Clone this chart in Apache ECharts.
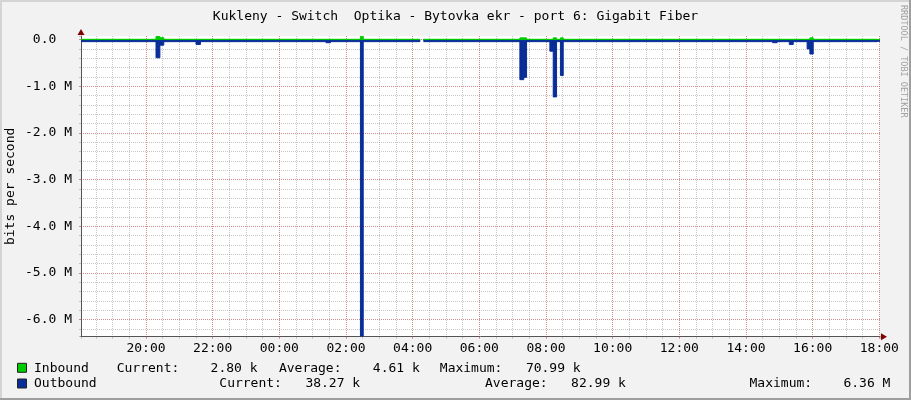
<!DOCTYPE html>
<html><head><meta charset="utf-8">
<script src="https://cdn.jsdelivr.net/npm/echarts@6/dist/echarts.min.js"></script>
<style>
html,body{margin:0;padding:0;background:#f2f2f2;}
#wrap{position:relative;width:911px;height:400px;overflow:hidden;}
#chart{position:absolute;left:0;top:0;width:911px;height:400px;}
.b{position:absolute;pointer-events:none;}
</style></head><body>
<div id="wrap"><div id="chart"></div>
<div class="b" style="left:0;top:0;width:911px;height:2px;background:#d4d4d4"></div>
<div class="b" style="left:0;top:0;width:2px;height:400px;background:#d4d4d4"></div>
<div class="b" style="left:0;top:398px;width:911px;height:2px;background:#9e9e9e"></div>
<div class="b" style="left:909px;top:0;width:2px;height:400px;background:#9e9e9e"></div>
</div>
<script>
const chartTitle = 'Kukleny - Switch  Optika - Bytovka ekr - port 6: Gigabit Fiber';
const yAxisName = 'bits per second';
const watermark = 'RRDTOOL / TOBI OETIKER';
const seriesNames = ['Inbound', 'Outbound'];
const seriesColors = ['#00CC00', '#0A2E98'];
// time in minutes after 18:00 of the first day; each value holds until the next time
const tMin     = [3,     138,   145,    152,   210,    218,   444,   452,   506,     511,   613,  620,   793,    800,    805,   847,    853,     859,   866,    871,   1248,  1256,  1278,   1285,  1310,   1315,   1321,  1436,  1441.2];
const inbound  = [5000,  65000, 40000,  5000,  5000,   5000,  5000,  5000,  71000,   5000,  null, 5000,  36000,  36000,  5000,  5000,   36000,   5000,  36000,  5000,  5000,  5000,  5000,   5000,  5000,   36000,  5000,  2800,  null];
const outbound = [45000, 390000,120000, 45000, 105000, 45000, 68000, 45000, 6360000, 45000, null, 45000, 860000, 810000, 45000, 250000, 1230000, 45000, 770000, 45000, 68000, 45000, 107000, 45000, 200000, 310000, 45000, 38270, null];
const xTickLabels = ['18:00','20:00','22:00','00:00','02:00','04:00','06:00','08:00','10:00','12:00','14:00','16:00','18:00'];
const yTickLabels = ['-6.0 M','-5.0 M','-4.0 M','-3.0 M','-2.0 M','-1.0 M','0.0  '];
const statLabels = ['Current:', 'Average:', 'Maximum:'];
const inboundStats = ['2.80 k', '4.61 k', '70.99 k'];
const outboundStats = ['38.27 k', '82.99 k', '6.36 M'];

const FONT = 'DejaVu Sans Mono';
const X_MIN = 3, X_MAX = 1441.2, Y_MIN = -6.37e6, Y_MAX = 0.076e6;
const GRID_C = 'rgba(143,143,143,0.5)', MGRID_C = 'rgba(222,79,79,0.5)', AXIS_C = '#545454', ARROW_C = '#800000';

// rrd-style steps: value i holds from tMin[i] to tMin[i+1]
function segments(vals, sign) {
  const out = [];
  for (let i = 0; i < tMin.length - 1; i++) {
    if (vals[i] != null) out.push([tMin[i], tMin[i + 1], sign * vals[i]]);
  }
  return out;
}
function stepSeries(name, vals, sign, color, z) {
  return {
    name, type:'custom', coordinateSystem:'cartesian2d', xAxisIndex:0, yAxisIndex:0, z, silent:true, clip:true,
    encode:{x:[0, 1], y:2},
    data: segments(vals, sign),
    renderItem(params, api) {
      const a = api.coord([api.value(0), 0]);
      const b = api.coord([api.value(1), api.value(2)]);
      return {type:'rect',
        shape:{x:a[0], y:Math.min(a[1], b[1]), width:b[0] - a[0], height:Math.abs(b[1] - a[1])},
        style:{fill:color, stroke:color, lineWidth:1}};
    }
  };
}

function statText(label, val) { return label + val.padStart(10, ' '); }
const inX = [116.7, 278.9, 439.8], outX = [219.3, 485, 749.5];
const rowY = [368.3, 384];
const graphics = [];
seriesNames.forEach((n, i) => {
  graphics.push({type:'rect', silent:true, shape:{x:17.5, y:rowY[i] - 5, width:9, height:9},
    style:{fill:seriesColors[i], stroke:'#222', lineWidth:1}});
  graphics.push({type:'text', x:34, y:rowY[i], silent:true,
    style:{text:n, font:'13px "' + FONT + '"', fill:'#000', textVerticalAlign:'middle'}});
});
statLabels.forEach((l, i) => {
  graphics.push({type:'text', x: inX[i], y: rowY[0], silent:true,
    style:{text: statText(l, inboundStats[i]), font: '13px "' + FONT + '"', fill:'#000', textVerticalAlign:'middle'}});
  graphics.push({type:'text', x: outX[i], y: rowY[1], silent:true,
    style:{text: statText(l, outboundStats[i]), font: '13px "' + FONT + '"', fill:'#000', textVerticalAlign:'middle'}});
});
graphics.push({type:'text', x: 903, y: 5, rotation: -Math.PI/2, silent:true,
  style:{text: watermark, font:'8.5px "' + FONT + '"', fill:'#a0a0a0', textAlign:'left', textVerticalAlign:'middle'}});

const chart = echarts.init(document.getElementById('chart'), null, {renderer:'canvas'});
chart.setOption({
  animation:false,
  backgroundColor:'#f2f2f2',
  textStyle:{fontFamily:FONT},
  title:{text: chartTitle, left:'center', top:5, textStyle:{fontFamily:FONT, fontSize:13, fontWeight:'normal', color:'#000'}},
  grid:{left:81, top:36, right:31, bottom:63.3, show:true, backgroundColor:'#ffffff', borderWidth:0, outerBoundsMode:'none', containLabel:false},
  graphic: graphics,
  xAxis:[
    {type:'value', min:X_MIN, max:X_MAX, minInterval:120, maxInterval:120, position:'bottom', z:3,
      axisLine:{show:true, onZero:false, lineStyle:{color:AXIS_C, width:1}},
      axisTick:{show:true, length:2, lineStyle:{color:MGRID_C}},
      axisLabel:{margin:5, fontFamily:FONT, fontSize:13, color:'#000', showMinLabel:false, showMaxLabel:false,
        formatter: v => xTickLabels[Math.round(v/120)]},
      splitLine:{show:true, showMinLine:false, showMaxLine:false, lineStyle:{color:MGRID_C, width:1, type:[1,1]}}},
    {type:'value', min:X_MIN, max:X_MAX, minInterval:30, maxInterval:30, position:'bottom', z:2,
      axisLine:{show:true, onZero:false, symbol:['none','triangle'], symbolSize:[7,6], symbolOffset:[0,4], lineStyle:{color:ARROW_C, width:0}},
      axisTick:{show:true, length:2, lineStyle:{color:GRID_C}},
      axisLabel:{show:false},
      splitLine:{show:true, showMinLine:false, showMaxLine:false, lineStyle:{color:GRID_C, width:1, type:[1,1]}}}
  ],
  yAxis:[
    {type:'value', min:Y_MIN, max:Y_MAX, minInterval:1e6, maxInterval:1e6, position:'left', z:3,
      name: yAxisName, nameLocation:'middle', nameGap:64, nameMoveOverlap:false,
      nameTextStyle:{fontFamily:FONT, fontSize:13, color:'#000'},
      axisLine:{show:true, onZero:false, lineStyle:{color:AXIS_C, width:1}},
      axisTick:{show:true, length:2, lineStyle:{color:MGRID_C}},
      axisLabel:{margin:9, fontFamily:FONT, fontSize:13, color:'#000', showMinLabel:false, showMaxLabel:false,
        formatter: v => yTickLabels[Math.round(v/1e6) + 6]},
      splitLine:{show:true, showMinLine:false, showMaxLine:false, lineStyle:{color:MGRID_C, width:1, type:[1,1]}}},
    {type:'value', min:Y_MIN, max:Y_MAX, minInterval:0.2e6, maxInterval:0.2e6, position:'left', z:2,
      axisLine:{show:true, onZero:false, symbol:['none','triangle'], symbolSize:[7,6], symbolOffset:[0,4], lineStyle:{color:ARROW_C, width:0}},
      axisTick:{show:true, length:2, lineStyle:{color:GRID_C}},
      axisLabel:{show:false},
      splitLine:{show:true, showMinLine:false, showMaxLine:false, lineStyle:{color:GRID_C, width:1, type:[1,1]}}}
  ],
  series:[
    stepSeries(seriesNames[1], outbound, -1, seriesColors[1], 4),
    stepSeries(seriesNames[0], inbound, 1, seriesColors[0], 5)
  ]
});
</script>
</body></html>
